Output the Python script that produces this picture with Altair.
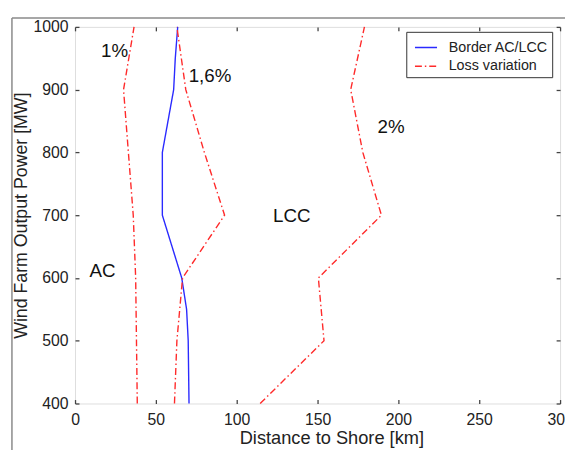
import altair as alt
import pandas as pd

# ---- data ----
border_mw = [400, 500, 550, 600, 700, 800, 900, 950, 1000]
border_km = [70.5, 70, 69, 66, 54, 54, 61, 62, 63.5]

loss_mw = [400, 500, 600, 700, 800, 900, 1000]
loss_1_km = [38.5, 38, 37.5, 36, 33, 30, 36.5]
loss_16_km = [61.5, 63, 66.5, 92.5, 80, 68.5, 63]
loss_2_km = [114.5, 154, 150.5, 189.5, 178, 170.5, 179]

note_text = ["1%", "1,6%", "2%", "LCC", "AC"]
note_km = [24.5, 83.5, 195.5, 134, 17]
note_mw = [961, 921, 841, 699, 611]

x_ticks = [0, 50, 100, 150, 200, 250, 300]
y_ticks = [400, 500, 600, 700, 800, 900, 1000]

legend_names = ["Border AC/LCC", "Loss variation"]

rows = []
for m, k in zip(border_mw, border_km):
    rows.append({"series": "border", "kind": legend_names[0], "km": k, "mw": m})
for name, arr in [("1", loss_1_km), ("1.6", loss_16_km), ("2", loss_2_km)]:
    for m, k in zip(loss_mw, arr):
        rows.append({"series": name, "kind": legend_names[1], "km": k, "mw": m})
df = pd.DataFrame(rows)
notes = pd.DataFrame({"t": note_text, "km": note_km, "mw": note_mw})

W, H = 492, 382
FONT = "Liberation Sans"
AX = "#444444"

xs = alt.Scale(domain=[0, 300], nice=False, zero=False)
ys = alt.Scale(domain=[400, 1000], nice=False, zero=False)

# outer figure frame
one = pd.DataFrame({"a": [0]})
frame_left = alt.Chart(one).mark_rule(color="#8a8a8a", strokeWidth=1.5).encode(
    x=alt.value(-64), y=alt.value(-9), y2=alt.value(H + 60))
frame_top = alt.Chart(one).mark_rule(color="#8a8a8a", strokeWidth=1.5).encode(
    x=alt.value(-64), x2=alt.value(W + 40), y=alt.value(-9))

lines = alt.Chart(df).mark_line(strokeWidth=1.4).encode(
    x=alt.X("km:Q", scale=xs, axis=alt.Axis(
        orient="bottom", values=x_ticks, ticks=False, domain=False, grid=False,
        labelPadding=8, labelFontSize=16, labelFlush=False, labelColor="#222",
        format="d",
        title="Distance to Shore [km]", titleFontSize=18.5, titleFontWeight="normal",
        titleColor="#222", titlePadding=2, titleX=260, titleAlign="center")),
    y=alt.Y("mw:Q", scale=ys, axis=alt.Axis(
        orient="left", values=y_ticks, ticks=False, domain=False, grid=False,
        labelPadding=7, labelFontSize=16, labelFlush=False, labelColor="#222",
        format="d",
        title="Wind Farm Output Power [MW]", titleFontSize=18, titleFontWeight="normal",
        titleColor="#222", titlePadding=3)),
    color=alt.Color("kind:N", sort=legend_names,
                    scale=alt.Scale(domain=legend_names, range=["#2a2aff", "#ff2a2a"]),
                    legend=alt.Legend(title=None, orient="none", legendX=336, legendY=5,
                                      strokeColor="#333", fillColor="white", padding=4,
                                      symbolType="stroke", symbolSize=500,
                                      symbolStrokeWidth=1.5, labelFontSize=14.5,
                                      labelOffset=11, rowPadding=-6, labelColor="#222",
                                      symbolOffset=4, labelFont=FONT)),
    strokeDash=alt.StrokeDash("kind:N", sort=legend_names,
                              scale=alt.Scale(domain=legend_names,
                                              range=[[1, 0], [7, 3, 1.5, 3]]),
                              legend=alt.Legend(title=None, orient="none", legendX=336,
                                                legendY=5)),
    detail="series:N",
    order=alt.Order("mw:Q"),
)

ticks_a = alt.Chart(df).mark_line(strokeOpacity=0).encode(
    x=alt.X("km:Q", scale=xs, title=None, axis=alt.Axis(
        orient="top", offset=-H, values=x_ticks, labels=False, domain=False,
        grid=False, tickSize=4, tickColor=AX, tickWidth=1.3)),
    y=alt.Y("mw:Q", scale=ys, title=None, axis=alt.Axis(
        orient="right", offset=-W, values=y_ticks, labels=False, domain=False,
        grid=False, tickSize=4, tickColor=AX, tickWidth=1.3)),
    detail="series:N",
)
ticks_b = alt.Chart(df).mark_line(strokeOpacity=0).encode(
    x=alt.X("km:Q", scale=xs, title=None, axis=alt.Axis(
        orient="bottom", offset=-H, values=x_ticks, labels=False, domain=False,
        grid=False, tickSize=4, tickColor=AX, tickWidth=1.3)),
    y=alt.Y("mw:Q", scale=ys, title=None, axis=alt.Axis(
        orient="left", offset=-W, values=y_ticks, labels=False, domain=False,
        grid=False, tickSize=4, tickColor=AX, tickWidth=1.3)),
    detail="series:N",
)

text = alt.Chart(notes).mark_text(fontSize=19, font=FONT, color="#111",
                                  align="center", baseline="middle").encode(
    x=alt.X("km:Q", scale=xs, axis=None), y=alt.Y("mw:Q", scale=ys, axis=None),
    text="t:N")

chart = alt.layer(frame_left, frame_top, lines, ticks_a, ticks_b, text).resolve_axis(
    x="independent", y="independent"
).properties(
    width=W, height=H,
    padding={"left": 68, "top": 16, "right": 5, "bottom": 44},
    autosize=alt.AutoSizeParams(type="none"),
).configure_view(stroke=AX, strokeWidth=1.5).configure(font=FONT)

chart.save("out.html", embed_options={"renderer": "svg", "actions": False})
